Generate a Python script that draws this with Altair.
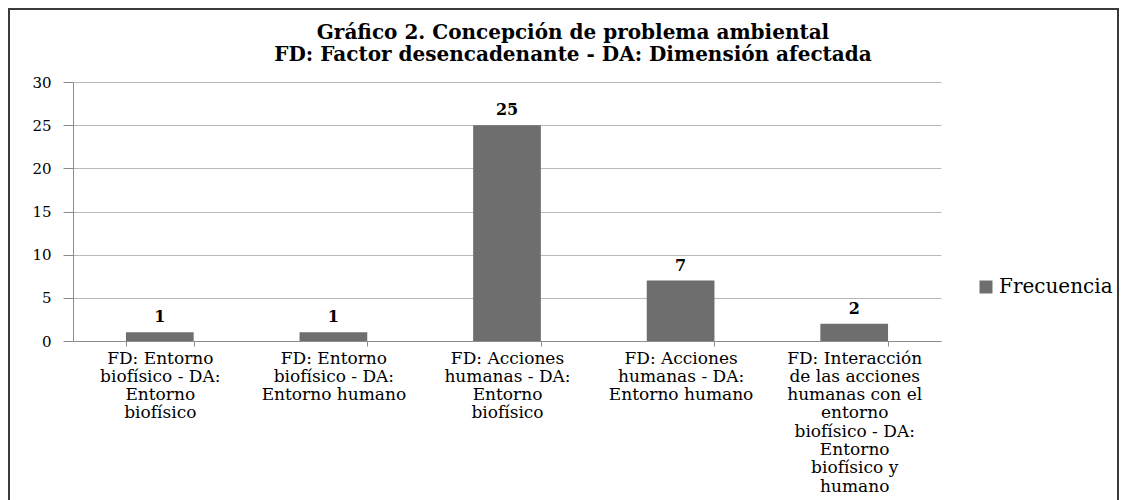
import altair as alt
import pandas as pd

category_lines = [
    ["FD: Entorno", "biofísico - DA:", "Entorno", "biofísico"],
    ["FD: Entorno", "biofísico - DA:", "Entorno humano"],
    ["FD: Acciones", "humanas - DA:", "Entorno", "biofísico"],
    ["FD: Acciones", "humanas - DA:", "Entorno humano"],
    ["FD: Interacción", "de las acciones", "humanas con el", "entorno", "biofísico - DA:", "Entorno", "biofísico y", "humano"],
]
values = [1, 1, 25, 7, 2]
series_name = "Frecuencia"
y_ticks = [0, 5, 10, 15, 20, 25, 30]

categories = ["|".join(l) for l in category_lines]
df = pd.DataFrame({"cat": categories, "val": values, "serie": [series_name] * len(values)})

W, H = 868, 259
FONT = "DejaVu Serif"

base = alt.Chart(df)

x_enc = alt.X("cat:N", sort=categories, title=None,
              scale=alt.Scale(paddingInner=0.61, paddingOuter=0.305),
              axis=alt.Axis(labelAngle=0, labelExpr="split(datum.label, '|')",
                            labelFont=FONT, labelFontSize=17, labelColor="black",
                            labelLineHeight=18.3, labelPadding=4, labelLimit=300,
                            tickBand="extent", tickSize=5, tickColor="#8c8c8c",
                            domainColor="#8c8c8c", grid=False, labelBaseline="top"))

bars = base.mark_bar(color="#6e6e6e").encode(
    x=x_enc,
    y=alt.Y("val:Q", title=None, scale=alt.Scale(domain=[0, 30], nice=False),
            axis=alt.Axis(values=y_ticks, labelFont=FONT, labelFontSize=15,
                          labelColor="black", labelPadding=12, tickSize=10,
                          tickColor="#8c8c8c", domainColor="#8c8c8c",
                          gridColor="#b8b8b8", gridWidth=1)),
    fill=alt.Fill("serie:N", scale=alt.Scale(range=["#6e6e6e"]),
                  legend=alt.Legend(title=None, orient="none", legendX=903, legendY=195,
                                    labelFont=FONT, labelFontSize=20, labelColor="black",
                                    labelOffset=3,
                                    symbolType="square", symbolSize=169, symbolStrokeWidth=0)),
)

labels = base.mark_text(font=FONT, fontSize=16, fontWeight="bold", color="black",
                        dy=-10, baseline="alphabetic").encode(
    x=alt.X("cat:N", sort=categories),
    y=alt.Y("val:Q"),
    text=alt.Text("val:Q"),
)

border = alt.Chart(pd.DataFrame({"a": [0]})).mark_rect(
    fill=None, stroke="#3a3a3a", strokeWidth=2).encode(
    x=alt.value(-64), x2=alt.value(1045), y=alt.value(-73), y2=alt.value(600))

chart = alt.layer(bars, labels, border).properties(
    width=W, height=H,
    autosize=alt.AutoSizeParams(type="none"),
    padding={"left": 65, "top": 74, "right": 178, "bottom": 159},
    title=alt.TitleParams(
        ["Gráfico 2. Concepción de problema ambiental",
         "FD: Factor desencadenante - DA: Dimensión afectada"],
        font=FONT, fontSize=20, fontWeight="bold", color="black",
        anchor="middle", frame="group", dx=66, offset=-57, lineHeight=22),
).configure(background="white"
).configure_view(stroke=None)

chart.save("out.html", embed_options={"renderer": "svg", "actions": False})
